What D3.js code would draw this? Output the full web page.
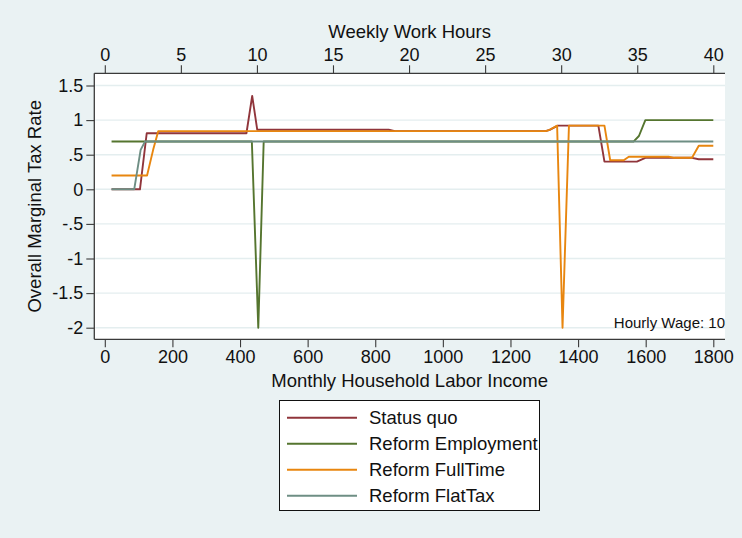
<!DOCTYPE html>
<html>
<head>
<meta charset="utf-8">
<script src="https://cdn.jsdelivr.net/npm/d3@7"></script>
<style>
  html, body { margin: 0; padding: 0; background: #ffffff; }
  svg { display: block; }
  text { font-family: "Liberation Sans", Arial, Helvetica, sans-serif; fill: #111; }
</style>
</head>
<body>
<svg id="chart" width="742" height="538"></svg>
<script>
// Marginal tax rate by monthly household labour income (hourly wage 10)
const incomeTicks = [0, 200, 400, 600, 800, 1000, 1200, 1400, 1600, 1800];
const hourTicks = [0, 5, 10, 15, 20, 25, 30, 35, 40];
const rateTicks = [1.5, 1, 0.5, 0, -0.5, -1, -1.5, -2];

const seriesNames = ["Status quo", "Reform Employment", "Reform FullTime", "Reform FlatTax"];
const seriesColors = ["#90353b", "#55752f", "#e8860f", "#6e8e84"];

// [monthly income, overall marginal tax rate]
const statusQuo = [
  [20, 0], [104, 0], [124, 0.81], [419, 0.81], [436, 1.35], [451, 0.86],
  [840, 0.86], [858, 0.84], [1304, 0.84], [1316, 0.86], [1340, 0.92],
  [1460, 0.92], [1478, 0.40], [1574, 0.40], [1599, 0.455], [1737, 0.455],
  [1757, 0.435], [1800, 0.435]
];
const reformEmployment = [
  [20, 0.69], [435, 0.69], [454, -2], [470, 0.69], [1564, 0.69],
  [1580, 0.77], [1599, 1.0], [1800, 1.0]
];
const reformFullTime = [
  [20, 0.2], [125, 0.2], [143, 0.57], [158, 0.84], [1304, 0.84],
  [1316, 0.86], [1338, 0.92], [1354, -2], [1373, 0.92], [1478, 0.92],
  [1495, 0.42], [1535, 0.42], [1550, 0.47], [1668, 0.47], [1685, 0.455],
  [1737, 0.455], [1757, 0.63], [1800, 0.63]
];
const reformFlatTax = [
  [20, 0], [87, 0], [106, 0.57], [119, 0.69], [1800, 0.69]
];
const seriesData = [statusQuo, reformEmployment, reformFullTime, reformFlatTax];

const svg = d3.select("#chart");
const W = 742, H = 538;

// graph region background
svg.append("rect").attr("x", 0).attr("y", 0).attr("width", W).attr("height", H)
  .attr("fill", "#eaf2f3");

// plot region
const plot = { left: 94.3, right: 725, top: 73.3, bottom: 339.3 };
svg.append("rect")
  .attr("x", plot.left).attr("y", plot.top)
  .attr("width", plot.right - plot.left).attr("height", plot.bottom - plot.top)
  .attr("fill", "#ffffff");

const x = d3.scaleLinear().domain([0, 1800]).range([104.8, 713.3]);
const xHours = d3.scaleLinear().domain([0, 40]).range([104.8, 713.3]);
const y = d3.scaleLinear().domain([-2, 1.5]).range([327.7, 85.5]);

// horizontal grid lines
svg.append("g").selectAll("line").data(rateTicks).join("line")
  .attr("x1", plot.left + 1).attr("x2", plot.right)
  .attr("y1", d => y(d)).attr("y2", d => y(d))
  .attr("stroke", "#e4eeef").attr("stroke-width", 1.4);

const fmtRate = d => {
  if (d === 0) return "0";
  let s = String(d);
  return s.replace(/^(-?)0\./, "$1.");
};

// left axis
const gy = svg.append("g").attr("transform", `translate(${plot.left},0)`)
  .call(d3.axisLeft(y).tickValues(rateTicks).tickFormat(fmtRate).tickSizeInner(8).tickSizeOuter(0).tickPadding(3));
gy.select(".domain").attr("d", `M0,${plot.top}V${plot.bottom}`);

// bottom axis
const gx = svg.append("g").attr("transform", `translate(0,${plot.bottom})`)
  .call(d3.axisBottom(x).tickValues(incomeTicks).tickFormat(d3.format("d")).tickSizeInner(8).tickSizeOuter(0).tickPadding(3));
gx.select(".domain").attr("d", `M${plot.left},0H${plot.right}`);

// top axis (weekly hours)
const gt = svg.append("g").attr("transform", `translate(0,${plot.top})`)
  .call(d3.axisTop(xHours).tickValues(hourTicks).tickFormat(d3.format("d")).tickSizeInner(8).tickSizeOuter(0).tickPadding(4));
gt.select(".domain").attr("d", `M${plot.left},0H${plot.right}`);

svg.selectAll(".domain").attr("stroke", "#3a3a3a").attr("stroke-width", 1.3);
svg.selectAll(".tick line").attr("stroke", "#3a3a3a").attr("stroke-width", 1.1);
svg.selectAll(".tick text").attr("font-size", 18)
  .attr("font-family", "Liberation Sans, Arial, sans-serif").attr("fill", "#111");

// axis titles
svg.append("text").attr("x", (plot.left + plot.right) / 2).attr("y", 38)
  .attr("text-anchor", "middle").attr("font-size", 18.5).text("Weekly Work Hours");
svg.append("text").attr("x", (plot.left + plot.right) / 2).attr("y", 387)
  .attr("text-anchor", "middle").attr("font-size", 18.5).text("Monthly Household Labor Income");
svg.append("text")
  .attr("transform", `translate(41,${(plot.top + plot.bottom) / 2}) rotate(-90)`)
  .attr("text-anchor", "middle").attr("font-size", 18.5).text("Overall Marginal Tax Rate");

// series lines
const line = d3.line().x(d => x(d[0])).y(d => y(d[1]));
svg.append("g").selectAll("path").data(seriesData).join("path")
  .attr("d", line)
  .attr("fill", "none")
  .attr("stroke", (d, i) => seriesColors[i])
  .attr("stroke-width", 1.9)
  .attr("stroke-linejoin", "round");

// note
svg.append("text").attr("x", 725).attr("y", 328)
  .attr("text-anchor", "end").attr("font-size", 15).text("Hourly Wage: 10");

// legend
const legend = svg.append("g");
legend.append("rect")
  .attr("x", 279.5).attr("y", 400.5).attr("width", 260).attr("height", 110)
  .attr("fill", "#ffffff").attr("stroke", "#111").attr("stroke-width", 1);
const rows = legend.selectAll("g.row").data(seriesNames).join("g")
  .attr("class", "row")
  .attr("transform", (d, i) => `translate(0,${417.7 + i * 26})`);
rows.append("line").attr("x1", 287).attr("x2", 357).attr("y1", 0).attr("y2", 0)
  .attr("stroke", (d, i) => seriesColors[i]).attr("stroke-width", 1.9);
rows.append("text").attr("x", 369).attr("y", 6.6)
  .attr("font-size", 18.5).text(d => d);
</script>
</body>
</html>
